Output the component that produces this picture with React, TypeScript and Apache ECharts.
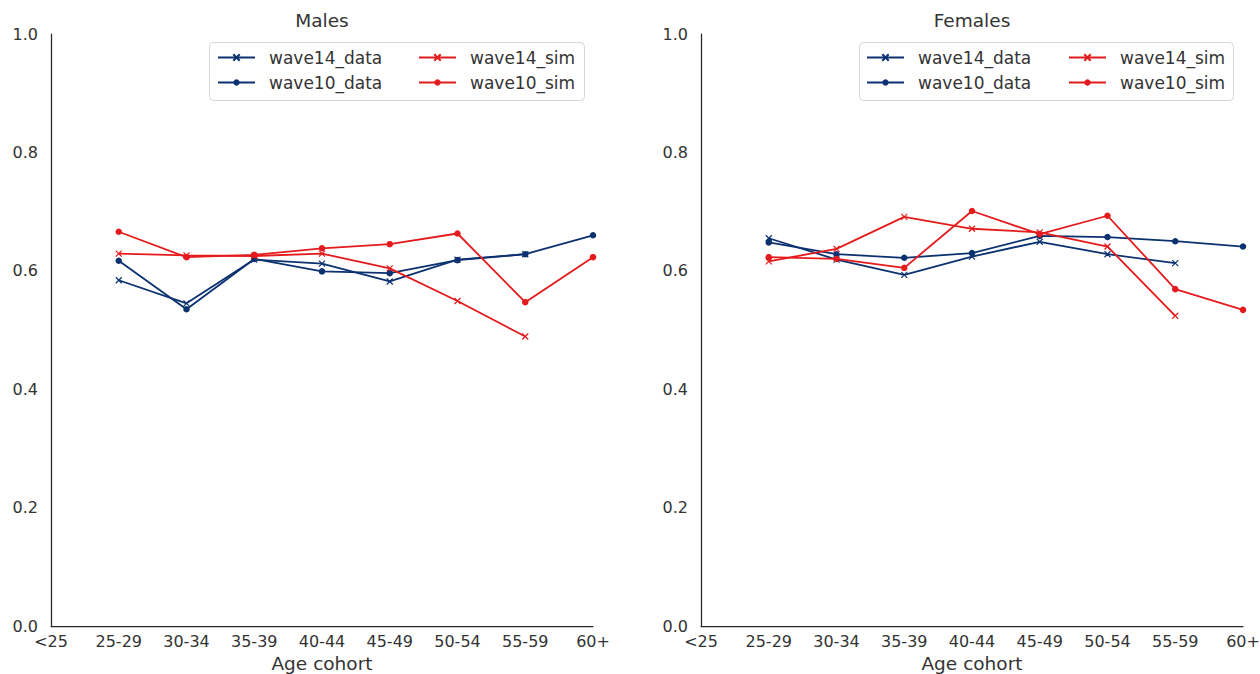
import React, { useEffect, useRef } from 'react';
import * as echarts from 'echarts';

const categories = ['<25', '25-29', '30-34', '35-39', '40-44', '45-49', '50-54', '55-59', '60+'];

const maleWave14Data = [null, 0.584, 0.545, 0.619, 0.612, 0.582, 0.619, 0.628, null];
const maleWave10Data = [null, 0.617, 0.535, 0.620, 0.599, 0.596, 0.618, 0.628, 0.660];
const maleWave14Sim = [null, 0.629, 0.626, 0.625, 0.629, 0.604, 0.549, 0.489, null];
const maleWave10Sim = [null, 0.666, 0.623, 0.627, 0.638, 0.645, 0.663, 0.547, 0.623];

const femaleWave14Data = [null, 0.655, 0.619, 0.593, 0.624, 0.649, 0.628, 0.613, null];
const femaleWave10Data = [null, 0.648, 0.628, 0.622, 0.630, 0.659, 0.657, 0.650, 0.641];
const femaleWave14Sim = [null, 0.616, 0.637, 0.691, 0.671, 0.665, 0.641, 0.524, null];
const femaleWave10Sim = [null, 0.623, 0.620, 0.605, 0.701, 0.662, 0.693, 0.569, 0.534];

const panelTitles = ['Males', 'Females'];
const seriesNames = ['wave14_data', 'wave10_data', 'wave14_sim', 'wave10_sim'];
const yTickValues = [0, 0.2, 0.4, 0.6, 0.8, 1.0];

const NAVY = '#0b3170';
const RED = '#e41a1c';
const TEXT = '#333333';
const AXIS = '#262626';
const FONT = 'DejaVu Sans';
const XSYM = 'path://M0,0L10,10M0,10L10,0';

export default function App() {
  const ref = useRef<HTMLDivElement>(null);

  useEffect(() => {
    const chart = echarts.init(ref.current as HTMLDivElement, null, { renderer: 'svg' });

    const panels = [
      [maleWave14Data, maleWave10Data, maleWave14Sim, maleWave10Sim],
      [femaleWave14Data, femaleWave10Data, femaleWave14Sim, femaleWave10Sim],
    ];
    const colors = [NAVY, NAVY, RED, RED];
    const symbols = [XSYM, 'circle', XSYM, 'circle'];

    const series: any[] = [];
    panels.forEach((sets, gi) => {
      sets.forEach((data, si) => {
        const isX = symbols[si] !== 'circle';
        series.push({
          type: 'line',
          name: seriesNames[si],
          data,
          xAxisIndex: gi,
          yAxisIndex: gi,
          symbol: symbols[si],
          symbolSize: isX ? 6 : 6.5,
          showSymbol: true,
          connectNulls: false,
          lineStyle: { color: colors[si], width: 1.8 },
          itemStyle: {
            color: colors[si],
            borderColor: colors[si],
            borderWidth: isX ? 1.2 : 0,
          },
          emphasis: { disabled: true },
          z: 2 + si,
        });
      });
    });

    const gridLefts = [51, 701];

    const xAxes = gridLefts.map((_, gi) => ({
      type: 'category',
      gridIndex: gi,
      data: categories,
      boundaryGap: false,
      axisLine: { show: true, lineStyle: { color: AXIS, width: 1.25 } },
      axisTick: { show: false },
      splitLine: { show: false },
      axisLabel: { interval: 0, margin: 7, fontSize: 16, color: TEXT, fontFamily: FONT },
      name: 'Age cohort',
      nameLocation: 'middle',
      nameGap: 28,
      nameTextStyle: { fontSize: 18.5, color: TEXT, fontFamily: FONT },
    }));

    const yAxes = gridLefts.map((_, gi) => ({
      type: 'value',
      gridIndex: gi,
      min: yTickValues[0],
      max: yTickValues[yTickValues.length - 1],
      interval: 0.2,
      axisLine: { show: true, lineStyle: { color: AXIS, width: 1.25 } },
      axisTick: { show: false },
      splitLine: { show: false },
      axisLabel: {
        margin: 13,
        fontSize: 16,
        color: TEXT,
        fontFamily: FONT,
        formatter: (v: number) => v.toFixed(1),
      },
    }));

    const legendCols = [
      { left: 217, names: [seriesNames[0], seriesNames[1]] },
      { left: 418, names: [seriesNames[2], seriesNames[3]] },
      { left: 866, names: [seriesNames[0], seriesNames[1]] },
      { left: 1068, names: [seriesNames[2], seriesNames[3]] },
    ];

    const legends = legendCols.map((c) => ({
      orient: 'vertical',
      left: c.left,
      top: 48,
      padding: 0,
      itemGap: 6,
      itemWidth: 37,
      itemHeight: 8,
      data: c.names,
      selectedMode: false,
      z: 10,
      textStyle: {
        fontSize: 17,
        lineHeight: 19,
        color: TEXT,
        fontFamily: FONT,
        padding: [0, 0, 0, 9],
      },
    }));

    const option: any = {
      animation: false,
      backgroundColor: '#ffffff',
      grid: gridLefts.map((l) => ({
        left: l,
        top: 34,
        width: 542,
        height: 592,
        containLabel: false,
        outerBoundsMode: 'none',
      })),
      xAxis: xAxes,
      yAxis: yAxes,
      legend: legends,
      series,
      graphic: [
        {
          type: 'rect',
          z: 8,
          shape: { x: 209.5, y: 42.5, width: 375, height: 58, r: 4 },
          style: { fill: '#ffffff', stroke: '#d6d6d6', lineWidth: 1 },
        },
        {
          type: 'rect',
          z: 8,
          shape: { x: 859.5, y: 42.5, width: 374, height: 58, r: 4 },
          style: { fill: '#ffffff', stroke: '#d6d6d6', lineWidth: 1 },
        },
        {
          type: 'text',
          x: 322,
          y: 20,
          style: {
            text: panelTitles[0],
            align: 'center',
            verticalAlign: 'middle',
            fontSize: 18.5,
            fill: TEXT,
            fontFamily: FONT,
          },
        },
        {
          type: 'text',
          x: 972,
          y: 20,
          style: {
            text: panelTitles[1],
            align: 'center',
            verticalAlign: 'middle',
            fontSize: 18.5,
            fill: TEXT,
            fontFamily: FONT,
          },
        },
      ],
    };

    chart.setOption(option);
    return () => chart.dispose();
  }, []);

  return (
    <div
      ref={ref}
      style={{ position: 'absolute', left: 0, top: 0, width: 1260, height: 674 }}
    />
  );
}
